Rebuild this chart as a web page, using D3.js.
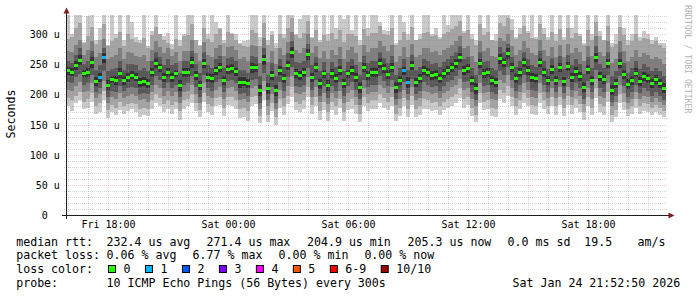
<!DOCTYPE html>
<html><head><meta charset="utf-8">
<script src="https://cdn.jsdelivr.net/npm/d3@7/dist/d3.min.js"></script>
<style>html,body{margin:0;padding:0;background:#fff;}svg{display:block;}text{font-family:"DejaVu Sans Mono",monospace;}</style>
</head><body><svg id="c" width="697" height="297"></svg>
<script>
// ---- data (microseconds), 150 consolidated steps of 12 min over 30 h ----
const median = [240,237,248,257,235,237,253,222,229,262,215,225,224,235,224,229,232,229,220,222,
219,237,252,245,229,237,229,235,215,237,237,253,232,215,252,229,227,240,245,224,
242,243,238,220,221,218,245,245,207,258,210,232,207,240,227,248,270,235,232,237,
267,229,245,218,235,215,235,227,240,218,235,240,229,212,245,232,237,237,252,243,
234,245,212,224,240,220,248,220,227,240,237,232,234,227,235,240,245,252,262,240,
243,224,210,252,235,237,224,220,260,253,268,245,227,237,253,240,229,227,253,237,
224,242,224,245,222,247,229,239,230,212,242,224,262,230,225,252,208,219,252,234,
217,224,236,222,230,227,219,225,219,210];
const ping1 = [180,172,186,190,176,178,188,168,170,190,160,170,165,174,168,172,175,170,162,166,
164,176,186,180,170,176,168,175,158,176,180,186,172,162,188,170,166,180,182,164,
182,180,176,160,162,156,180,184,152,190,154,172,150,178,166,184,196,174,170,176,
196,168,180,158,174,156,174,166,178,156,174,176,168,154,180,172,176,176,186,178,
174,180,156,164,180,162,182,162,166,176,176,172,174,166,174,178,180,186,194,178,
182,164,154,186,174,176,164,162,192,186,198,180,166,176,186,180,168,166,186,176,
168,180,166,182,164,182,168,178,170,158,180,166,194,170,166,188,154,162,186,174,
164,168,178,168,172,170,166,170,166,162];
const ping2 = [194,190,198,204,188,192,202,180,186,206,174,182,178,188,180,184,186,184,176,178,
176,190,200,194,184,190,182,188,172,190,192,200,186,174,202,184,180,194,196,178,
196,196,190,176,178,172,196,198,164,206,166,186,162,192,180,198,212,188,184,190,
212,182,196,172,188,170,188,180,192,170,188,192,182,168,196,186,190,190,200,194,
188,196,168,178,194,176,198,176,180,192,190,186,188,180,188,192,196,200,210,192,
196,178,166,202,188,190,178,176,208,202,214,196,180,190,202,194,182,180,202,190,
180,196,180,196,178,198,182,192,184,170,196,178,210,184,180,204,166,174,200,188,
176,180,192,180,186,184,178,182,178,172];
const ping3 = [208,206,214,220,204,206,218,194,200,222,186,196,192,202,194,198,200,198,190,192,
188,204,216,210,198,206,198,204,186,204,206,216,200,186,218,198,194,208,212,192,
210,212,206,190,192,188,210,214,176,222,180,200,176,208,194,214,230,202,200,204,
228,196,212,188,202,184,202,194,206,186,202,208,196,182,210,200,204,204,216,210,
202,212,182,192,208,190,212,190,194,206,204,200,202,194,202,206,212,216,226,208,
210,192,180,218,202,204,192,190,224,218,232,210,194,204,218,208,196,194,218,204,
194,210,194,212,192,212,196,206,198,184,210,192,226,198,194,218,180,188,216,202,
186,192,204,192,198,196,188,194,188,182];
const ping4 = [220,218,228,234,216,218,232,204,210,238,196,206,204,214,205,210,212,210,200,203,
200,216,230,224,210,218,210,216,196,216,218,230,212,196,232,210,206,220,226,204,
222,224,218,200,202,198,224,226,186,236,190,212,186,220,206,228,246,214,212,216,
244,208,224,198,214,194,214,206,220,198,214,220,208,192,224,212,216,216,230,222,
214,224,192,204,220,200,226,200,206,220,216,212,214,206,214,220,224,230,240,220,
222,204,190,232,214,216,204,200,238,232,246,224,206,216,232,220,208,206,232,216,
204,222,204,224,202,226,208,218,210,192,222,204,240,210,204,232,188,198,230,214,
196,204,216,202,210,206,198,204,198,190];
const ping5 = [232,230,240,248,228,229,244,214,221,252,207,218,216,227,216,221,225,222,212,214,
211,229,243,237,221,229,221,228,206,229,229,244,224,207,244,221,219,232,237,216,
234,235,230,211,213,210,236,237,198,249,201,224,198,232,219,240,260,227,224,229,
257,221,237,209,227,206,227,219,232,210,227,232,221,203,237,224,229,229,244,235,
226,237,203,216,232,211,240,212,219,232,229,224,226,219,227,232,237,244,253,232,
235,216,201,244,227,229,216,212,251,245,259,237,219,229,245,232,221,219,245,229,
216,234,216,237,214,239,221,231,222,204,234,216,253,222,217,244,199,211,244,226,
209,216,228,214,222,219,211,217,211,202];
const ping6 = [246,243,256,266,241,244,262,229,236,268,224,231,230,243,230,236,238,236,227,229,
226,244,260,251,236,243,236,241,223,244,243,262,239,222,258,236,233,246,252,231,
249,250,244,228,228,225,252,251,216,266,219,239,216,247,234,256,279,242,239,244,
275,236,252,226,241,223,242,234,247,226,241,247,236,220,252,239,244,243,260,250,
241,252,220,231,246,228,255,227,234,247,244,239,241,234,242,247,252,259,269,247,
250,231,219,259,242,244,231,227,267,260,276,252,234,244,260,247,236,234,260,244,
231,249,231,252,229,254,236,246,237,220,249,231,269,237,232,259,216,226,259,241,
225,231,243,229,237,234,226,232,226,218];
const ping7 = [256,252,266,276,251,256,272,240,248,276,238,242,243,255,241,250,250,248,240,243,
238,256,270,262,248,258,248,252,235,255,256,272,250,236,270,248,244,258,264,244,
260,262,256,240,240,236,264,262,230,276,232,252,230,258,246,268,288,254,252,256,
284,248,262,238,254,236,254,246,258,238,254,258,248,232,264,252,256,256,270,260,
252,264,232,244,258,240,266,240,246,258,256,250,252,246,254,258,264,270,280,258,
262,244,232,270,254,256,244,240,278,270,284,262,246,256,270,258,248,246,272,256,
242,260,244,264,242,266,248,258,250,234,262,244,280,250,244,270,230,238,270,252,
236,244,256,242,250,246,238,244,238,230];
const ping8 = [272,270,282,290,266,274,288,262,268,292,258,262,266,276,258,270,268,264,262,266,
256,274,288,278,268,276,264,270,256,272,272,290,268,256,286,266,262,276,282,264,
278,280,274,258,262,256,282,280,252,294,254,272,250,276,266,286,304,274,268,276,
300,268,280,260,272,258,274,266,278,258,274,278,268,254,282,270,276,276,288,280,
272,282,254,264,278,262,284,262,266,276,276,270,272,266,274,276,282,288,296,276,
280,264,254,288,272,276,264,262,294,288,300,280,266,274,288,276,268,266,290,274,
264,278,262,282,262,284,268,276,270,256,280,264,296,270,264,288,252,258,288,272,
256,262,274,262,268,266,258,262,258,250];
const ping9 = [292,300,310,318,286,296,312,284,290,316,282,288,294,304,280,300,292,286,290,294,
276,298,312,300,296,302,284,292,280,296,298,316,290,282,310,292,286,300,308,290,
304,302,300,284,288,278,306,302,280,318,282,298,276,300,294,310,326,298,294,302,
322,294,306,286,298,288,302,292,306,286,300,306,296,282,308,296,302,302,314,306,
298,310,282,290,304,290,312,290,292,302,304,296,298,292,300,304,308,314,322,302,
306,292,282,316,298,304,290,288,318,314,326,306,292,300,314,302,294,292,316,300,
290,304,288,308,290,310,294,302,296,282,306,290,320,296,290,314,278,284,312,298,
282,288,300,288,294,292,284,288,282,276];
const ping10 = [340,295,340,340,285,330,340,290,310,340,280,340,300,340,290,340,320,295,285,340,
280,305,340,300,290,285,275,340,290,300,340,340,290,280,340,300,340,320,310,285,
340,300,290,285,280,290,340,340,295,340,290,305,285,340,300,340,340,300,325,340,
340,295,340,290,340,300,340,310,340,325,340,300,340,290,340,310,340,340,320,300,
305,340,285,340,320,300,340,290,300,340,340,300,310,295,340,315,340,340,340,305,
340,300,290,340,310,340,290,300,340,340,340,325,295,310,340,305,340,295,340,310,
295,340,300,340,295,340,310,340,300,285,340,300,340,305,290,340,285,300,340,310,
290,300,340,295,305,300,290,295,285,285];
const lossEvents = [[8,1],[9,1],[84,1],[85,1]];   // [step index, lost pings]
const yTickValues = [0,50,100,150,200,250,300];
const yTickLabels = ["0  ","50 u","100 u","150 u","200 u","250 u","300 u"];
const lossColors = ["#26ff00","#00b8ff","#0059ff","#7e00ff","#ff00ff","#ff5500","#ff0000","#a10000"];
const lossLabels = ["0","1","2","3","4","5","6-9","10/10"];
const rttLegend = ["median rtt:","232.4 us avg","271.4 us max","204.9 us min","205.3 us now","0.0 ms sd","19.5","am/s"];
const lossLegend = ["packet loss:","0.06 % avg","6.77 % max","0.00 % min","0.00 % now"];
const probeLegend = ["probe:","10 ICMP Echo Pings (56 Bytes) every 300s","Sat Jan 24 21:52:50 2026"];
const yTitle = "Seconds";
const watermark = "RRDTOOL / TOBI OETIKER";

// ---- layout ----
const svg = d3.select("#c");
const X0 = 66, X1 = 666, Y0 = 215, Y1 = 15;
const tStart = new Date(Date.UTC(2026,0,23,15,52,50));
const tEnd = new Date(Date.UTC(2026,0,24,21,52,50));
const N = median.length;
const stepMs = (tEnd - tStart) / N;
const x = d3.scaleTime().domain([tStart, tEnd]).range([X0, X1]);
const y = d3.scaleLinear().domain([0, 331.5]).range([Y0, Y1]);
const tx = i => x(new Date(+tStart + i*stepMs));

svg.append("defs").append("clipPath").attr("id","pc").append("rect")
  .attr("x",X0).attr("y",Y1).attr("width",X1-X0).attr("height",Y0-Y1);

const pings = [ping1,ping2,ping3,ping4,ping5,ping6,ping7,ping8,ping9,ping10];
const cols = d3.range(N).map(i => pings.map(p => p[i]).sort((a,b)=>a-b));
const greys = ["#cacaca","#a4a4a4","#7e7e7e","#585858","#323232"];
const g = svg.append("g").attr("clip-path","url(#pc)").attr("shape-rendering","crispEdges");
greys.forEach((col,k) => {
  g.append("g").selectAll("rect").data(d3.range(N)).join("rect")
    .attr("x", i => tx(i))
    .attr("width", i => tx(i+1) - tx(i))
    .attr("y", i => y(cols[i][9-k]))
    .attr("height", i => y(cols[i][k]) - y(cols[i][9-k]))
    .attr("fill", col);
});
const lossAt = new Map(lossEvents);
const lossIdx = l => l <= 5 ? l : (l < 10 ? 6 : 7);
g.append("g").selectAll("rect").data(d3.range(N)).join("rect")
  .attr("x", i => tx(i))
  .attr("width", i => tx(i+1) - tx(i))
  .attr("y", i => Math.round(y(median[i])) - 1)
  .attr("height", 3)
  .attr("fill", i => lossColors[lossIdx(lossAt.get(i) || 0)]);

// ---- grid (on top, dotted) ----
const grid = svg.append("g");
const minorC = "rgba(143,143,143,0.75)", majorC = "rgba(222,79,79,0.6)";
d3.range(10, 331, 10).forEach(v => {
  const yy = Math.round(y(v)) + 0.5;
  grid.append("line").attr("x1",X0-2).attr("x2",X1+2).attr("y1",yy).attr("y2",yy)
    .attr("stroke", v % 50 === 0 ? majorC : minorC).attr("stroke-width", 0.5)
    .attr("stroke-dasharray","1,1");
});
const hours = x.ticks(d3.utcHour.every(1));
hours.forEach(h => {
  const xx = Math.round(x(h)) + 0.5;
  const major = h.getUTCHours() % 3 === 0;
  grid.append("line").attr("x1",xx).attr("x2",xx).attr("y1",Y1).attr("y2",Y0+2)
    .attr("stroke", major ? majorC : minorC).attr("stroke-width", 0.5)
    .attr("stroke-dasharray","1,1");
});

// ---- axes ----
const ax = svg.append("g").attr("shape-rendering","crispEdges");
ax.append("line").attr("x1",X0-4).attr("x2",X1+4).attr("y1",Y0+0.5).attr("y2",Y0+0.5).attr("stroke","#1f1f1f");
ax.append("line").attr("x1",X0+0.5).attr("x2",X0+0.5).attr("y1",Y0+4).attr("y2",Y1-3).attr("stroke","#1f1f1f");
svg.append("path").attr("d",`M${X0-2.5},${Y1-1.5} L${X0+0.5},${Y1-7.5} L${X0+3.5},${Y1-1.5} Z`).attr("fill","#801f1f");
svg.append("path").attr("d",`M${X1+2.5},${Y0-2.5} L${X1+8.5},${Y0+0.5} L${X1+2.5},${Y0+3.5} Z`).attr("fill","#801f1f");

// y labels
svg.append("g").selectAll("text").data(yTickValues).join("text")
  .attr("x", 59.8).attr("y", v => Math.round(y(v)) + 4.2)
  .attr("text-anchor","end").attr("font-size","10px").attr("fill","#000")
  .style("white-space","pre")
  .text((v,i) => yTickLabels[i]);
// x labels
const fmt = d3.utcFormat("%a %H:%M");
svg.append("g").selectAll("text").data(hours.filter(h => h.getUTCHours() % 6 === 0)).join("text")
  .attr("x", h => Math.round(x(h)) + 0.5).attr("y", 227.6)
  .attr("text-anchor","middle").attr("font-size","10px").attr("fill","#000")
  .text(h => fmt(h));

// titles
svg.append("text").attr("transform","translate(14.5,114) rotate(-90)")
  .attr("text-anchor","middle").attr("font-size","11.6px").text(yTitle);
svg.append("text").attr("transform","translate(684.5,5) rotate(90)")
  .attr("font-size","8.2px").attr("fill","#b4b4b4").text(watermark);

// ---- legend ----
const L = svg.append("g").attr("font-size","11.6px").attr("fill","#000").style("white-space","pre");
const rows = [245.8, 259.4, 273.0, 286.6];
const rttX = [16.2,106.6,206.6,307.0,407.6,507.6,584.2,637.6];
rttLegend.forEach((t,i) => L.append("text").attr("x",rttX[i]).attr("y",rows[0]).text(t));
const lossX = [16.2,106.6,192.6,278.6,364.4];
lossLegend.forEach((t,i) => L.append("text").attr("x",lossX[i]).attr("y",rows[1]).text(t));
L.append("text").attr("x",16.2).attr("y",rows[2]).text("loss color:");
let bx = 108.5;
lossLabels.forEach((lab,i) => {
  L.append("rect").attr("x",bx).attr("y",265.5).attr("width",7).attr("height",7)
    .attr("fill",lossColors[i]).attr("stroke","#000").attr("stroke-width",1);
  L.append("text").attr("x",bx+15).attr("y",rows[2]).text(lab);
  bx += 30 + lab.length*6.97;
});
const probeX = [16.2,106.6,512.6];
probeLegend.forEach((t,i) => L.append("text").attr("x",probeX[i]).attr("y",rows[3]).text(t));
</script></body></html>
